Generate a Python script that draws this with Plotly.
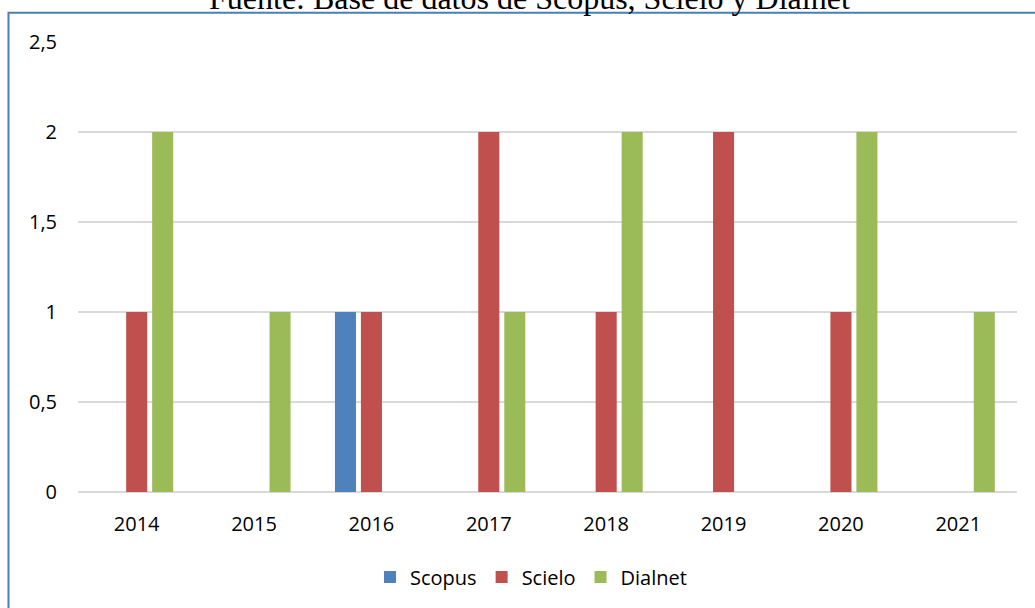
import plotly.graph_objects as go

years = ["2014", "2015", "2016", "2017", "2018", "2019", "2020", "2021"]
scopus = [0, 0, 1, 0, 0, 0, 0, 0]
scielo = [1, 0, 1, 2, 1, 2, 1, 0]
dialnet = [2, 1, 0, 1, 2, 0, 2, 1]
y_tick_vals = [0, 0.5, 1, 1.5, 2, 2.5]
y_tick_text = ["0", "0,5", "1", "1,5", "2", "2,5"]
title_text = "Fuente: Base de datos de Scopus, Scielo y Dialnet"

series = [
    ("Scopus", scopus, "#4F81BD"),
    ("Scielo", scielo, "#C0504D"),
    ("Dialnet", dialnet, "#9BBB59"),
]

fig = go.Figure()
for name, vals, color in series:
    fig.add_trace(go.Bar(x=years, y=vals, name=name,
                         marker=dict(color=color, line=dict(width=0))))

W, H = 1035, 608
L, R, T, B = 78, 18, 42, 116
pw, ph = W - L - R, H - T - B

def px_x(p):
    return (p - L) / pw

def px_y(p):
    return (H - B - p) / ph

fig.update_layout(
    width=W, height=H,
    margin=dict(l=L, r=R, t=T, b=B, autoexpand=False),
    paper_bgcolor="white", plot_bgcolor="white",
    barmode="group", bargap=0.336, bargroupgap=0.19,
    font=dict(family="Open Sans", size=20, color="#000000"),
    showlegend=True,
    legend=dict(orientation="h", x=px_x(531), xanchor="center",
                y=px_y(577), yanchor="middle",
                font=dict(family="Open Sans", size=20, color="#000000"),
                bgcolor="rgba(0,0,0,0)", traceorder="normal"),
    xaxis=dict(showgrid=False, showline=False, ticks="", zeroline=False,
               ticklabelstandoff=18, tickfont=dict(size=20)),
    yaxis=dict(range=[0, 2.5], tickvals=y_tick_vals, ticktext=y_tick_text,
               showgrid=True, gridcolor="#D9D9D9", gridwidth=1.5,
               zeroline=True, zerolinecolor="#D9D9D9", zerolinewidth=1.5,
               showline=False, ticks="", ticklabelstandoff=20,
               tickfont=dict(size=20)),
)

fig.add_annotation(text=title_text, xref="paper", yref="paper",
                   x=px_x(529), y=px_y(-2), xanchor="center", yanchor="middle",
                   showarrow=False,
                   font=dict(family="Liberation Serif", size=32, color="#000000"))

fig.add_shape(type="rect", xref="paper", yref="paper",
              x0=px_x(8.5), x1=px_x(1045), y0=px_y(12.7), y1=px_y(615),
              line=dict(color="#4A7EBB", width=2), fillcolor="rgba(0,0,0,0)",
              layer="above")

fig.write_html("out.html",
               config={"displayModeBar": False},
               post_script="document.body.style.margin='0';document.body.style.overflow='hidden';")
